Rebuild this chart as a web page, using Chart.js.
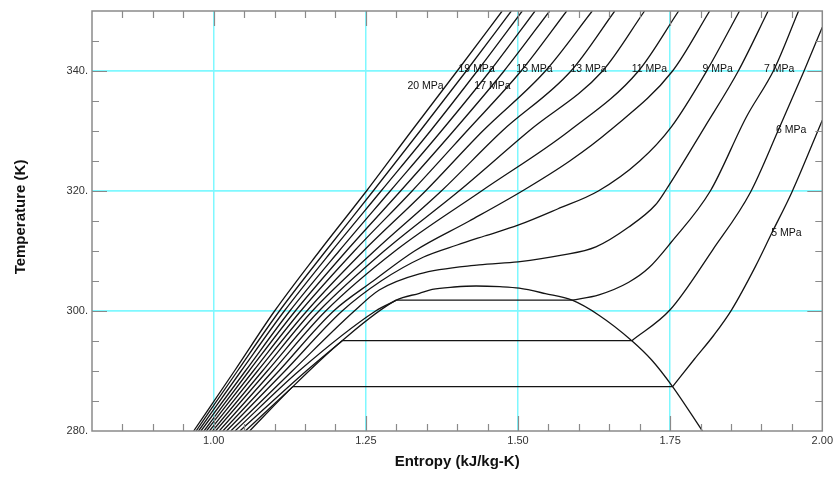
<!DOCTYPE html>
<html>
<head>
<meta charset="utf-8">
<script src="https://cdn.jsdelivr.net/npm/chart.js@4.4.1/dist/chart.umd.min.js"></script>
<style>
  html, body { margin: 0; padding: 0; background: #fff; }
</style>
</head>
<body>
<canvas id="ts-chart" width="836" height="485"></canvas>
<script>
// CO2 isobars on a T-s diagram
// entropy s in kJ/kg-K, temperature T in K

// shared temperature grid for the 11..20 MPa isobars
const gridT = [280, 290, 300, 310, 320, 330, 340, 350];
const s20 = [0.967, 1.034, 1.100, 1.174, 1.251, 1.325, 1.400, 1.474];
const s19 = [0.971, 1.039, 1.108, 1.184, 1.262, 1.339, 1.415, 1.489];
const s18 = [0.975, 1.045, 1.116, 1.194, 1.275, 1.356, 1.433, 1.507];
const s17 = [0.979, 1.052, 1.125, 1.206, 1.290, 1.374, 1.454, 1.528];
const s16 = [0.984, 1.058, 1.134, 1.218, 1.307, 1.394, 1.477, 1.552];
const s15 = [0.988, 1.065, 1.143, 1.231, 1.326, 1.416, 1.505, 1.580];
const s14 = [0.993, 1.072, 1.153, 1.246, 1.348, 1.442, 1.545, 1.622];
const s13 = [0.998, 1.080, 1.162, 1.264, 1.374, 1.474, 1.587, 1.659];
const s12 = [1.003, 1.088, 1.173, 1.280, 1.403, 1.518, 1.639, 1.708];
const s11 = [1.009, 1.097, 1.184, 1.298, 1.440, 1.584, 1.698, 1.764];

// near-critical isobars need their own temperature steps
const t10 = [280, 290, 300, 305, 310, 315, 320, 325, 330, 340, 350];
const s10 = [1.015, 1.107, 1.197, 1.262, 1.330, 1.420, 1.507, 1.585, 1.650, 1.754, 1.815];
const t9 = [280, 290, 300, 305, 309, 311, 312.5, 314.3, 317, 320, 325, 330.7, 340, 350];
const s9 = [1.021, 1.117, 1.211, 1.275, 1.345, 1.400, 1.445, 1.500, 1.565, 1.632, 1.700, 1.752, 1.810, 1.864];
const t8 = [280, 290, 300, 303.5, 306.2, 307.7, 308.2, 309.3, 310.7, 314, 317.7, 320, 330.7, 340, 350];
const s8 = [1.028, 1.129, 1.231, 1.272, 1.338, 1.436, 1.500, 1.572, 1.628, 1.682, 1.726, 1.742, 1.807, 1.862, 1.911];

// subcritical isobars: liquid, saturation plateau (repeated T), vapour
const t7 = [280, 290, 300, 301.8, 301.8, 302.7, 304.8, 307.2, 311.5, 320, 332.3, 340.3, 350];
const s7 = [1.035, 1.140, 1.266, 1.300, 1.589, 1.633, 1.682, 1.715, 1.752, 1.816, 1.875, 1.921, 1.961];
const t6 = [280, 290, 295.05, 295.05, 300.2, 310.2, 319.8, 330.2, 340, 347.3];
const s6 = [1.043, 1.152, 1.211, 1.687, 1.750, 1.820, 1.882, 1.928, 1.970, 2.000];
const t5 = [280, 287.4, 287.4, 292, 296, 300.2, 307.4, 313, 319.8, 331.8];
const s5 = [1.052, 1.130, 1.754, 1.790, 1.822, 1.851, 1.890, 1.917, 1.950, 2.000];

// saturation dome
const domeS = [1.059, 1.130, 1.211, 1.300, 1.338, 1.359, 1.395, 1.431, 1.470, 1.502, 1.545, 1.589, 1.633, 1.687, 1.720, 1.754, 1.803];
const domeT = [280, 287.4, 295.05, 301.8, 302.95, 303.6, 304.0, 304.17, 304.05, 303.8, 302.9, 301.8, 299.3, 295.05, 291.8, 287.4, 280];

// isobar tags
const tagText = ['20 MPa', '19 MPa', '17 MPa', '15 MPa', '13 MPa', '11 MPa', '9 MPa', '7 MPa', '6 MPa', '5 MPa'];
const tagS = [1.348, 1.432, 1.458, 1.527, 1.616, 1.716, 1.828, 1.929, 1.949, 1.941];
const tagT = [337.5, 340.3, 337.5, 340.3, 340.3, 340.3, 340.3, 340.3, 330.2, 313];

// axis ticks
const xTicks = [1.00, 1.25, 1.50, 1.75, 2.00];
const yTicks = [280, 300, 320, 340];

const FONT = '"Liberation Sans", Arial, sans-serif';

function toPoints(sArr, tArr) {
    return sArr.map((s, i) => ({ x: s, y: tArr[i] }));
}

// split a subcritical isobar where the temperature repeats (the flat two-phase part)
function splitSaturation(sArr, tArr) {
    const pts = toPoints(sArr, tArr);
    const k = tArr.findIndex((t, i) => i > 0 && t === tArr[i - 1]);
    return [pts.slice(0, k), pts.slice(k - 1, k + 1), pts.slice(k)];
}

function curve(points) {
    return {
        data: points,
        showLine: true,
        borderColor: '#141414',
        borderWidth: 1.3,
        pointRadius: 0,
        cubicInterpolationMode: 'monotone',
        fill: false
    };
}

const datasets = [];
[s20, s19, s18, s17, s16, s15, s14, s13, s12, s11].forEach(s => datasets.push(curve(toPoints(s, gridT))));
datasets.push(curve(toPoints(s10, t10)));
datasets.push(curve(toPoints(s9, t9)));
datasets.push(curve(toPoints(s8, t8)));
[[s7, t7], [s6, t6], [s5, t5]].forEach(([s, t]) => {
    splitSaturation(s, t).forEach(part => datasets.push(curve(part)));
});
datasets.push(curve(toPoints(domeS, domeT)));

// frame, inward ticks, tags and axis titles
const decor = {
    id: 'decor',
    afterDatasetsDraw(chart) {
        const { ctx, chartArea: a, scales: { x, y } } = chart;
        ctx.save();
        ctx.strokeStyle = '#8a8a8a';
        ctx.lineWidth = 1.2;
        ctx.beginPath();
        for (let i = 1; i < 24; i++) {
            const px = Math.round(x.getPixelForValue(0.8 + i * 0.05)) + 0.5;
            const len = i % 5 === 4 ? 15 : 7;
            ctx.moveTo(px, a.bottom); ctx.lineTo(px, a.bottom - len);
            ctx.moveTo(px, a.top); ctx.lineTo(px, a.top + len);
        }
        for (let t = 285; t < 350; t += 5) {
            const py = Math.round(y.getPixelForValue(t)) + 0.5;
            const len = t % 20 === 0 ? 15 : 7;
            ctx.moveTo(a.left, py); ctx.lineTo(a.left + len, py);
            ctx.moveTo(a.right, py); ctx.lineTo(a.right - len, py);
        }
        ctx.stroke();
        ctx.lineWidth = 1.5;
        ctx.strokeRect(a.left, a.top, a.right - a.left, a.bottom - a.top);

        ctx.fillStyle = '#111';
        ctx.font = '10.5px ' + FONT;
        ctx.textAlign = 'center';
        ctx.textBaseline = 'middle';
        tagText.forEach((txt, i) => {
            ctx.fillText(txt, x.getPixelForValue(tagS[i]), y.getPixelForValue(tagT[i]));
        });

        ctx.font = 'bold 15px ' + FONT;
        ctx.fillText('Entropy (kJ/kg-K)', (a.left + a.right) / 2, a.bottom + 31);
        ctx.translate(21, (a.top + a.bottom) / 2 - 4);
        ctx.rotate(-Math.PI / 2);
        ctx.fillText('Temperature (K)', 0, 0);
        ctx.restore();
    }
};

const cyan = '#7ff8ff';

new Chart(document.getElementById('ts-chart'), {
    type: 'scatter',
    data: { datasets },
    options: {
        responsive: false,
        animation: false,
        devicePixelRatio: 1,
        layout: { padding: { top: 11, right: 12, left: 0, bottom: 0 } },
        plugins: { legend: { display: false }, tooltip: { enabled: false } },
        scales: {
            x: {
                type: 'linear',
                min: 0.8,
                max: 2.0,
                afterBuildTicks: scale => { scale.ticks = xTicks.map(v => ({ value: v })); },
                afterFit: scale => { scale.height = 54; },
                ticks: {
                    callback: v => v.toFixed(2),
                    font: { family: FONT, size: 11 },
                    color: '#333',
                    padding: 3,
                    maxRotation: 0
                },
                grid: {
                    color: c => (c.tick && c.tick.value < 2 ? cyan : 'rgba(0,0,0,0)'),
                    lineWidth: 1.5,
                    drawTicks: false
                },
                border: { display: false }
            },
            y: {
                type: 'linear',
                min: 280,
                max: 350,
                afterBuildTicks: scale => { scale.ticks = yTicks.map(v => ({ value: v })); },
                afterFit: scale => { scale.width = 92; },
                ticks: {
                    callback: v => v + '.',
                    font: { family: FONT, size: 11 },
                    color: '#333',
                    padding: 4
                },
                grid: {
                    color: c => (c.tick && c.tick.value > 280 ? cyan : 'rgba(0,0,0,0)'),
                    lineWidth: 1.8,
                    drawTicks: false
                },
                border: { display: false }
            }
        }
    },
    plugins: [decor]
});
</script>
</body>
</html>
